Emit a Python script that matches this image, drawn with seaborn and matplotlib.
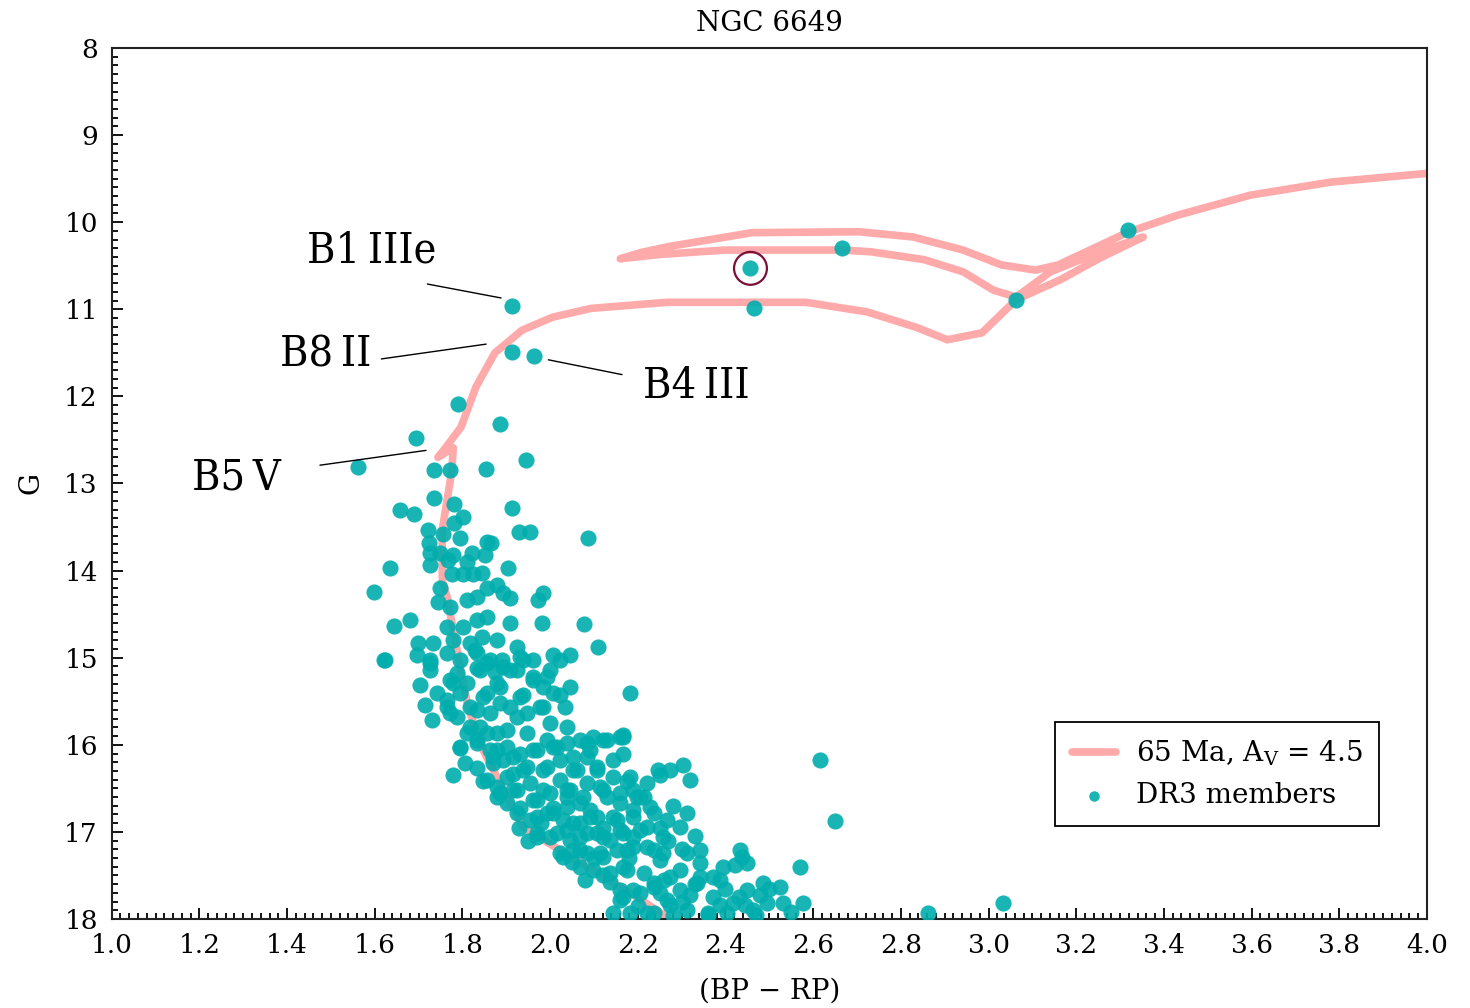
import numpy as np
import pandas as pd
import matplotlib
matplotlib.use("Agg")
import matplotlib.pyplot as plt
from matplotlib.ticker import MultipleLocator
import seaborn as sns

# isochrone (65 Ma, Av = 4.5), ordered along the track
iso_color = [2.267, 2.198, 2.107, 2.023, 1.984, 1.938, 1.909, 1.886, 1.847, 1.813,
             1.795, 1.779, 1.765, 1.754, 1.754, 1.765, 1.776, 1.779, 1.744, 1.763,
             1.797, 1.831, 1.874, 1.936, 2.006, 2.093, 2.266, 2.584, 2.723, 2.837,
             2.906, 2.985, 3.063, 3.164, 3.255, 3.353, 3.255, 3.141, 3.063, 3.011,
             2.942, 2.853, 2.732, 2.666, 2.399, 2.251, 2.160, 2.206, 2.270, 2.461,
             2.705, 2.828, 2.942, 3.029, 3.107, 3.159, 3.316, 3.431, 3.597, 3.780, 4.0]
iso_mag = [17.98, 17.75, 17.47, 17.21, 17.09, 16.94, 16.67, 16.44, 16.06, 15.57,
           15.11, 14.68, 14.30, 14.11, 13.53, 13.19, 12.85, 12.59, 12.70, 12.58,
           12.35, 11.89, 11.50, 11.24, 11.09, 10.99, 10.92, 10.92, 11.03, 11.21,
           11.35, 11.27, 10.89, 10.66, 10.41, 10.17, 10.34, 10.57, 10.86, 10.78,
           10.57, 10.43, 10.34, 10.32, 10.32, 10.37, 10.42, 10.35, 10.28, 10.12,
           10.11, 10.17, 10.32, 10.49, 10.55, 10.49, 10.12, 9.92, 9.69, 9.54, 9.44]

# Gaia DR3 members
bp_rp = [1.913, 1.913, 1.963, 2.457, 2.466, 2.666, 3.063, 3.319, 2.862, 3.034, 2.616, 2.650,
         1.790, 1.886, 1.694, 1.946, 1.562, 1.735, 1.772, 1.854, 1.735, 1.781, 1.658, 1.690,
         1.913, 1.802, 1.781, 1.722, 1.756, 1.795, 1.856, 1.865, 1.929, 1.954, 2.087, 1.724,
         1.726, 1.749, 1.779, 1.822, 1.852, 1.726, 1.767, 1.811, 1.635, 1.904, 1.777, 1.802,
         1.825, 1.845, 1.749, 1.856, 1.879, 1.893, 1.599, 1.745, 1.772, 1.811, 1.833, 1.909,
         1.972, 1.984, 1.644, 1.681, 1.765, 1.802, 1.833, 1.856, 1.909, 1.982, 2.078, 2.110,
         1.699, 1.733, 1.779, 1.818, 1.845, 1.879, 1.697, 1.726, 1.765, 1.795, 1.829, 1.856,
         1.890, 1.925, 1.939, 1.621, 2.023, 2.046, 2.000, 1.788, 1.833, 1.874, 1.925, 1.961,
         1.704, 1.779, 1.811, 1.856, 1.886, 1.939, 1.984, 2.023, 2.046, 2.183, 1.715, 1.765,
         1.731, 1.772, 1.833, 1.886, 1.925, 1.977, 2.000, 2.034, 2.039, 1.818, 1.856, 1.902,
         1.948, 1.993, 1.795, 1.833, 1.879, 1.916, 1.961, 2.016, 2.053, 2.091, 2.121, 2.167,
         2.085, 1.779, 1.806, 1.833, 1.870, 1.856, 1.902, 1.939, 1.984, 2.023, 2.062, 2.107,
         2.144, 2.183, 2.222, 2.245, 1.886, 1.925, 1.961, 2.000, 2.039, 2.076, 2.121, 2.160,
         2.205, 1.925, 1.970, 2.007, 2.039, 2.069, 2.107, 2.144, 2.190, 2.236, 1.970, 2.016,
         2.046, 2.085, 2.121, 2.160, 2.205, 2.030, 2.069, 2.114, 2.153, 2.190, 2.236, 2.137,
         2.176, 2.213, 2.167, 2.205, 2.236, 2.183, 2.222, 2.167, 2.304, 2.320, 2.274, 2.251,
         2.213, 2.190, 2.228, 2.267, 2.297, 2.313, 2.258, 2.222, 2.190, 2.176, 2.222, 2.258,
         2.313, 2.342, 2.395, 2.434, 2.450, 2.570, 2.577, 2.525, 2.486, 2.450, 2.418, 2.372,
         2.335, 2.297, 2.267, 2.236, 2.313, 2.359, 2.404, 2.463, 2.495, 2.532, 2.372, 2.342,
         2.274, 2.236, 2.190, 2.160, 2.144, 2.438,
         1.624, 1.726, 1.833, 1.863, 1.893, 1.932, 1.961, 2.007, 1.726, 1.772, 1.795, 1.840,
         1.847, 1.879, 1.909, 1.932, 1.961, 1.993, 2.007, 1.742, 1.765, 1.788, 1.818, 1.863,
         1.909, 1.948, 1.984, 1.840, 1.879, 1.811, 1.795, 1.833, 1.863, 1.902, 1.932, 1.970,
         2.007, 2.039, 2.069, 2.098, 2.130, 2.160, 1.870, 1.893, 1.916, 1.948, 1.993, 2.023,
         2.053, 2.085, 2.107, 2.167, 1.847, 1.879, 1.916, 1.954, 1.984, 2.046, 2.085, 2.114,
         2.144, 2.176, 1.879, 1.902, 1.932, 1.970, 2.007, 2.039, 2.069, 2.091, 2.130, 2.160,
         2.199, 1.954, 1.993, 2.030, 2.053, 2.091, 2.121, 2.153, 2.190, 1.970, 2.000, 2.039,
         2.069, 2.107, 2.137, 2.167, 2.023, 2.053, 2.085, 2.121, 2.069, 2.098, 2.137, 2.167,
         2.160, 2.251, 2.297, 2.342, 2.388, 2.422, 2.479, 2.320, 2.274, 2.388, 2.445,
         2.200, 2.250, 2.280, 2.330, 2.360, 2.400, 2.430, 2.470, 2.500, 2.550, 2.260, 2.300,
         2.270, 2.300, 2.330, 2.250, 2.280, 2.050, 2.100, 2.120, 2.080, 2.180, 1.930, 1.980,
         1.950]
g_mag = [10.96, 11.49, 11.54, 10.53, 10.99, 10.30, 10.89, 10.09, 17.93, 17.82, 16.17, 16.87,
         12.09, 12.32, 12.48, 12.73, 12.81, 12.85, 12.85, 12.83, 13.17, 13.24, 13.30, 13.35,
         13.28, 13.39, 13.45, 13.53, 13.58, 13.63, 13.67, 13.68, 13.56, 13.56, 13.63, 13.68,
         13.80, 13.80, 13.82, 13.80, 13.82, 13.94, 13.88, 13.90, 13.97, 13.97, 14.04, 14.04,
         14.04, 14.03, 14.20, 14.20, 14.17, 14.26, 14.25, 14.36, 14.42, 14.34, 14.30, 14.31,
         14.34, 14.26, 14.64, 14.57, 14.65, 14.65, 14.57, 14.53, 14.60, 14.60, 14.61, 14.88,
         14.83, 14.83, 14.80, 14.83, 14.76, 14.80, 14.97, 15.03, 14.95, 15.03, 14.91, 15.06,
         15.03, 14.88, 15.03, 15.03, 15.03, 14.97, 15.14, 15.18, 15.12, 15.17, 15.14, 15.22,
         15.31, 15.29, 15.29, 15.40, 15.34, 15.43, 15.34, 15.43, 15.34, 15.41, 15.54, 15.49,
         15.72, 15.64, 15.60, 15.52, 15.68, 15.57, 15.75, 15.57, 15.80, 15.80, 15.87, 15.83,
         15.87, 15.95, 16.04, 15.95, 16.06, 16.14, 16.06, 16.03, 16.14, 16.06, 15.95, 15.89,
         15.98, 16.35, 16.21, 16.27, 16.14, 16.40, 16.37, 16.29, 16.29, 16.40, 16.29, 16.29,
         16.17, 16.37, 16.44, 16.29, 16.55, 16.52, 16.63, 16.55, 16.52, 16.60, 16.52, 16.55,
         16.60, 16.78, 16.83, 16.78, 16.71, 16.90, 16.83, 16.83, 16.75, 16.78, 17.06, 17.01,
         17.09, 17.01, 17.06, 16.98, 16.98, 17.29, 17.21, 17.24, 17.21, 17.17, 17.21, 17.58,
         17.44, 17.47, 17.75, 17.70, 17.63, 17.93, 17.93, 15.91, 16.23, 16.40, 16.29, 16.35,
         16.60, 16.52, 16.71, 16.86, 16.94, 16.78, 17.06, 16.94, 17.06, 17.21, 17.17, 17.24,
         17.24, 17.36, 17.40, 17.21, 17.36, 17.40, 17.82, 17.63, 17.59, 17.67, 17.82, 17.75,
         17.59, 17.67, 17.78, 17.93, 17.90, 17.93, 17.93, 17.90, 17.82, 17.82, 17.52, 17.52,
         17.52, 17.59, 17.67, 17.78, 17.93, 17.29,
         15.03, 15.06, 14.95, 15.03, 15.11, 14.99, 15.03, 14.97, 15.14, 15.26, 15.41, 15.14,
         15.45, 15.29, 15.14, 15.45, 15.26, 15.22, 15.41, 15.41, 15.57, 15.68, 15.57, 15.64,
         15.57, 15.64, 15.57, 15.80, 15.87, 15.87, 16.03, 15.98, 16.06, 16.03, 16.10, 16.06,
         16.03, 15.98, 15.95, 15.91, 15.95, 15.91, 16.21, 16.18, 16.33, 16.26, 16.26, 16.18,
         16.29, 16.14, 16.26, 16.10, 16.41, 16.49, 16.52, 16.44, 16.52, 16.52, 16.44, 16.49,
         16.37, 16.41, 16.60, 16.67, 16.72, 16.63, 16.72, 16.60, 16.67, 16.75, 16.60, 16.67,
         16.60, 16.86, 16.78, 16.86, 16.90, 16.83, 16.95, 16.86, 16.83, 17.01, 17.06, 16.98,
         17.06, 17.01, 17.09, 17.01, 17.24, 17.21, 17.24, 17.29, 17.40, 17.44, 17.47, 17.40,
         17.67, 17.32, 17.44, 17.21, 17.55, 17.38, 17.72, 17.72, 17.84, 17.84, 17.84,
         17.85, 17.70, 17.95, 17.60, 17.95, 17.65, 17.75, 17.95, 17.65, 17.92, 17.55, 17.80,
         17.10, 17.20, 17.05, 16.95, 16.70, 17.35, 17.30, 17.50, 17.55, 17.30, 16.95, 16.90,
         17.10]

# circled star
ring_x, ring_y = [2.457], [10.53]

# spectral type labels: text, text position, leader line start -> end
labels = ["B1\u2009IIIe", "B8\u2009II", "B4\u2009III", "B5\u2009V"]
label_x = [1.594, 1.487, 2.333, 1.284]
label_y = [10.32, 11.52, 11.88, 12.93]
lead_x0 = [1.720, 1.615, 1.996, 1.475]
lead_y0 = [10.71, 11.57, 11.58, 12.79]
lead_x1 = [1.888, 1.854, 2.164, 1.717]
lead_y1 = [10.87, 11.40, 11.75, 12.62]

iso = pd.DataFrame({"bp_rp": iso_color, "G": iso_mag})
members = pd.DataFrame({"bp_rp": bp_rp, "G": g_mag})

sns.set_style("ticks")
plt.rcParams["font.family"] = ["DejaVu Serif", "DejaVu Sans"]
plt.rcParams["mathtext.fontset"] = "dejavuserif"
for k in ["text.color", "axes.labelcolor", "xtick.color", "ytick.color"]:
    plt.rcParams[k] = "black"

fig = plt.figure(figsize=(14.7, 10.08), dpi=100)
ax = fig.add_axes([0.076, 0.0883, 0.8947, 0.8641])

sns.lineplot(data=iso, x="bp_rp", y="G", sort=False, estimator=None, ax=ax,
             color="#ffaaaa", lw=5.5, zorder=2,
             label=r"65 Ma, A$_\mathrm{V}$ = 4.5")
sns.scatterplot(data=members, x="bp_rp", y="G", ax=ax, color="#00adad",
                s=135, linewidth=0, alpha=0.9, zorder=3, label="DR3 members")
ax.scatter(ring_x, ring_y, s=560, facecolors="none", edgecolors="#7a1038",
           linewidths=1.6, zorder=4)

for t, tx, ty, x0, y0, x1, y1 in zip(labels, label_x, label_y,
                                     lead_x0, lead_y0, lead_x1, lead_y1):
    ax.text(tx, ty, t, fontsize=31, fontstretch="condensed",
            ha="center", va="center", zorder=5)
    ax.plot([x0, x1], [y0, y1], color="black", lw=1, zorder=5)

ax.set_xlim(1.0, 4.0)
ax.set_ylim(18, 8)
ax.xaxis.set_major_locator(MultipleLocator(0.2))
ax.xaxis.set_minor_locator(MultipleLocator(0.02))
ax.yaxis.set_major_locator(MultipleLocator(1))
ax.yaxis.set_minor_locator(MultipleLocator(0.1))
ax.xaxis.set_major_formatter(plt.FormatStrFormatter("%.1f"))
ax.tick_params(which="both", direction="in", top=False, right=False,
               labelsize=19, width=1.3)
ax.tick_params(which="major", length=8, pad=10)
ax.tick_params(which="minor", length=4)
for sp in ax.spines.values():
    sp.set_linewidth(1.5)
    sp.set_color("#222222")

ax.set_xlabel("(BP \u2212 RP)", fontsize=20, labelpad=14)
ax.set_ylabel("G", fontsize=20, labelpad=14)
ax.set_title("NGC 6649", fontsize=20, pad=12)

leg = ax.legend(loc="lower right", bbox_to_anchor=(0.9635, 0.1068),
                borderaxespad=0, fontsize=20, frameon=True, fancybox=False,
                framealpha=1, edgecolor="black", handlelength=1.6,
                handletextpad=0.7, borderpad=0.6, labelspacing=0.5,
                markerscale=0.65)
leg.get_frame().set_linewidth(1.3)

fig.savefig("out.png", dpi=100)
